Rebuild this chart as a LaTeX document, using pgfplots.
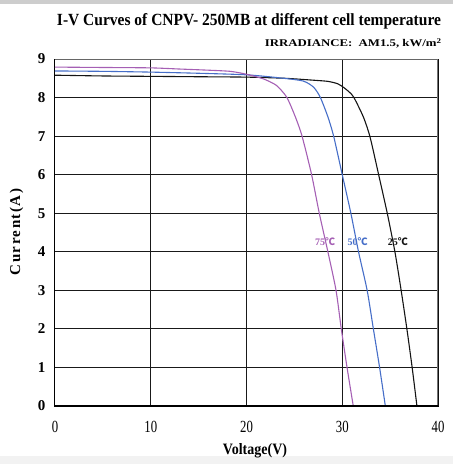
\documentclass[border=0pt]{standalone}
\usepackage{pgfplots}
\pgfplotsset{compat=1.18}
\usepackage{fontspec}
\setmainfont{Liberation Serif}
\newfontfamily\narrowserif[FakeStretch=0.75]{Liberation Serif}
\newfontfamily\cjk{Noto Sans CJK SC}

\definecolor{c25}{RGB}{20,20,20}
\definecolor{c50}{RGB}{70,110,200}
\definecolor{c75}{RGB}{165,95,180}
\definecolor{bandtop}{RGB}{205,205,205}
\definecolor{bandbot}{RGB}{242,242,242}

\begin{document}
\begin{tikzpicture}
  % canvas 453 x 464 px (1px = 1bp)
  \path[use as bounding box] (0,0) rectangle (453bp,464bp);
  \fill[bandtop] (0,460bp) rectangle (453bp,464bp);
  \fill[bandbot] (0,0) rectangle (453bp,8bp);

  \begin{axis}[
    at={(55bp,58bp)}, anchor=south west,
    scale only axis,
    width=383bp, height=347bp,
    xmin=0, xmax=40, ymin=0, ymax=9,
    xtick={0,10,20,30,40},
    ytick={0,1,...,9},
    major tick length=0pt,
    grid=major,
    major grid style={black!90, line width=1bp},
    axis line style={line width=1bp},
    xticklabel style={font=\narrowserif\fontsize{17bp}{17bp}\selectfont, yshift=-12bp},
    yticklabel style={font=\bfseries\fontsize{15bp}{15bp}\selectfont, xshift=-6bp},
    /pgf/number format/assume math mode=true,
    clip=true,
  ]
    % 25 C
    \addplot[c25, line width=1.1bp, smooth, tension=0.4] coordinates {
      (0,8.58) (5,8.56) (10,8.55) (15,8.54) (20,8.53) (24,8.50) (27,8.45)
      (28.5,8.42) (29.5,8.36) (30.1,8.27) (30.7,8.15) (31.2,8.01) (32.2,7.5)
      (32.9,6.98) (33.8,6.0) (34.7,5.0) (35.5,4.0) (36.15,3.0) (36.75,2.0)
      (37.3,1.0) (37.8,0)
    };
    % 50 C
    \addplot[c50, line width=1.1bp, smooth, tension=0.4] coordinates {
      (0,8.69) (5,8.68) (10,8.66) (15,8.63) (20,8.59) (23.5,8.51) (25.9,8.43)
      (27.0,8.27) (27.7,8.01) (28.5,7.5) (29.1,7.0) (30.0,6.0) (30.9,5.0)
      (31.7,4.0) (32.6,3.0) (33.25,2.0) (33.9,1.0) (34.5,0)
    };
    % 75 C
    \addplot[c75, line width=1.1bp, smooth, tension=0.4] coordinates {
      (0,8.79) (5,8.78) (10,8.77) (13,8.74) (16,8.71) (18.3,8.68) (19.9,8.61)
      (21.7,8.49) (23.1,8.32) (24.2,8.01) (25.1,7.5) (25.8,7.0) (26.8,6.0)
      (27.6,5.0) (28.5,4.0) (29.35,3.0) (29.9,2.0) (30.5,1.0) (31.15,0)
    };
    \node[c75, font=\bfseries\fontsize{10bp}{10bp}\selectfont, inner sep=0pt]
      at (axis cs:28.2,4.26) {75\cjk{℃}};
    \node[c50, font=\bfseries\fontsize{10bp}{10bp}\selectfont, inner sep=0pt]
      at (axis cs:31.6,4.26) {50\cjk{℃}};
    \node[c25, font=\bfseries\fontsize{10bp}{10bp}\selectfont, inner sep=0pt]
      at (axis cs:35.8,4.26) {25\cjk{℃}};
    % outer frame colours
    \draw[black!60, line width=2.5bp] (rel axis cs:0,1) -- (rel axis cs:1,1);
    \draw[black!55, line width=1.5bp] (rel axis cs:1,0) -- (rel axis cs:1,1);
    \draw[black, line width=1.6bp] (rel axis cs:0,0) -- (rel axis cs:1,0);
  \end{axis}

  % titles and labels
  \node[anchor=base, inner sep=0pt] at (249bp,438bp)
    {\resizebox{384bp}{12bp}{\bfseries I-V Curves of CNPV- 250MB at different cell temperature}};
  \node[anchor=base east, inner sep=0pt] at (442bp,417bp)
    {\resizebox{177bp}{8.5bp}{\bfseries IRRADIANCE:\ \ AM1.5, kW/m\textsuperscript{2}}};
  \node[anchor=base, inner sep=0pt] at (255bp,9bp)
    {\resizebox{64bp}{11bp}{\bfseries Voltage(V)}};
  \node[rotate=90, anchor=base, inner sep=0pt] at (20bp,232bp)
    {\bfseries\fontsize{15bp}{15bp}\selectfont\addfontfeature{LetterSpace=10}Current(A)};
\end{tikzpicture}
\end{document}
